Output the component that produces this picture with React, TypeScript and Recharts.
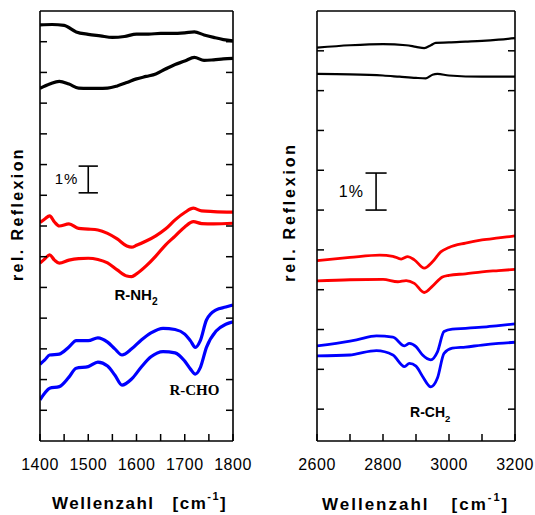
import React from 'react';
import { LineChart, Line, XAxis, YAxis, ReferenceLine, ReferenceDot } from 'recharts';

const SANS = 'Arial, "Liberation Sans", Helvetica, sans-serif';
const SERIF = '"Times New Roman", "Liberation Serif", serif';

// ---- left panel, 1400-1800 cm-1 (y in tick units)
const leftTicksX = [1400, 1450, 1500, 1550, 1600, 1650, 1700, 1750, 1800];
const leftTicksY = [1, 2, 3, 4, 5, 6, 7, 8, 9, 10, 11, 12, 13];

const refAWn = [1400, 1425, 1450, 1475, 1500, 1525, 1550, 1575, 1600, 1625, 1650, 1675, 1700, 1720, 1740, 1760, 1780, 1800];
const refA = [13.55, 13.56, 13.53, 13.32, 13.24, 13.19, 13.14, 13.17, 13.25, 13.25, 13.27, 13.27, 13.29, 13.32, 13.22, 13.14, 13.07, 13.03];

const refBWn = [1400, 1420, 1440, 1460, 1480, 1500, 1520, 1540, 1560, 1580, 1600, 1620, 1640, 1660, 1680, 1700, 1720, 1740, 1760, 1780, 1800];
const refB = [11.48, 11.62, 11.71, 11.62, 11.49, 11.48, 11.48, 11.49, 11.56, 11.67, 11.79, 11.87, 11.95, 12.11, 12.26, 12.37, 12.49, 12.39, 12.41, 12.44, 12.46];

const nh2Wn = [1400, 1410, 1420, 1430, 1440, 1460, 1480, 1500, 1520, 1540, 1560, 1580, 1590, 1600, 1620, 1640, 1660, 1680, 1700, 1718, 1735, 1760, 1800];
const nh2A = [7.11, 7.23, 7.33, 7.13, 7.0, 7.07, 6.92, 6.9, 6.87, 6.76, 6.58, 6.35, 6.31, 6.37, 6.51, 6.68, 6.9, 7.2, 7.44, 7.58, 7.49, 7.47, 7.45];
const nh2B = [5.79, 5.93, 6.06, 5.89, 5.79, 5.89, 5.94, 5.95, 5.91, 5.8, 5.57, 5.37, 5.35, 5.44, 5.7, 6.02, 6.38, 6.67, 6.97, 7.14, 7.08, 7.07, 7.09];

const choWn = [1400, 1410, 1420, 1440, 1460, 1475, 1500, 1520, 1540, 1555, 1570, 1590, 1610, 1630, 1655, 1680, 1700, 1712, 1722, 1732, 1745, 1765, 1785, 1800];
const choA = [2.5, 2.64, 2.8, 2.83, 3.06, 3.27, 3.27, 3.36, 3.22, 3.0, 2.8, 3.0, 3.29, 3.52, 3.67, 3.63, 3.48, 3.26, 3.05, 3.26, 3.94, 4.27, 4.36, 4.43];
const choB = [1.34, 1.56, 1.72, 1.77, 2.08, 2.37, 2.42, 2.57, 2.44, 2.15, 1.82, 2.02, 2.41, 2.74, 2.91, 2.87, 2.6, 2.34, 2.18, 2.38, 3.05, 3.58, 3.8, 3.88];

// ---- right panel, 2600-3200 cm-1
const rightTicksX = [2600, 2700, 2800, 2900, 3000, 3100, 3200];
const rightTicksY = [0.8, 1.8, 2.8, 3.8, 4.8, 5.8, 6.8, 7.8, 8.8, 9.8];

const rRefAWn = [2600, 2700, 2800, 2870, 2900, 2925, 2945, 2960, 3000, 3050, 3100, 3150, 3200];
const rRefA = [9.88, 9.94, 9.97, 9.94, 9.9, 9.87, 9.94, 10.0, 10.01, 10.03, 10.05, 10.08, 10.12];

const rRefBWn = [2600, 2700, 2800, 2850, 2900, 2930, 2950, 2965, 3000, 3100, 3200];
const rRefB = [9.22, 9.21, 9.18, 9.15, 9.12, 9.11, 9.2, 9.22, 9.18, 9.15, 9.15];

const rNh2AWn = [2600, 2700, 2790, 2830, 2855, 2875, 2895, 2925, 2950, 2975, 3000, 3050, 3100, 3150, 3200];
const rNh2A = [4.53, 4.61, 4.67, 4.64, 4.57, 4.63, 4.55, 4.34, 4.5, 4.75, 4.86, 4.97, 5.05, 5.1, 5.15];

const rNh2BWn = [2600, 2700, 2800, 2845, 2870, 2895, 2925, 2950, 2980, 3000, 3050, 3100, 3150, 3200];
const rNh2B = [4.02, 4.05, 4.06, 4.0, 4.03, 3.96, 3.73, 3.89, 4.12, 4.16, 4.2, 4.25, 4.28, 4.31];

const rChWn = [2600, 2700, 2720, 2780, 2830, 2865, 2880, 2900, 2920, 2945, 2965, 2985, 3010, 3050, 3100, 3150, 3200];
const rChA = [2.39, 2.51, 2.54, 2.64, 2.61, 2.39, 2.45, 2.37, 2.16, 2.04, 2.24, 2.75, 2.81, 2.83, 2.86, 2.9, 2.94];
const rChB = [2.14, 2.16, 2.19, 2.27, 2.16, 1.87, 1.95, 1.88, 1.62, 1.36, 1.58, 2.2, 2.33, 2.36, 2.41, 2.45, 2.48];

const zip = (wn: number[], r: number[]) => wn.map((x, i) => ({ x, r: r[i] }));

const frame = { stroke: '#000', strokeWidth: 1.6 };

const XTick = ({ x, y, payload, step, top }: any) => (
  <g>
    <line x1={x} x2={x} y1={y} y2={top ? y + 7 : y - 7} stroke="#000" strokeWidth={1.5} />
    {!top && payload.value % step === 0 && (
      <text x={x} y={y + 29} textAnchor="middle" fontSize={16} letterSpacing={0.5} fontFamily={SANS} fill="#000">
        {payload.value}
      </text>
    )}
  </g>
);

const YTick = ({ x, y, right }: any) => (
  <line x1={x} x2={right ? x - 7 : x + 7} y1={y} y2={y} stroke="#000" strokeWidth={1.5} />
);

const Tag = ({ viewBox, text, sub, size, serif }: any) => {
  const cx = viewBox.x + (viewBox.width || 0) / 2;
  const cy = viewBox.y + (viewBox.height || 0) / 2;
  return (
    <text x={cx} y={cy} textAnchor="middle" fontSize={size} fontWeight="bold" fontFamily={serif ? SERIF : SANS} fill="#000">
      {text}
      {sub && (
        <tspan fontSize={size * 0.68} dy={5}>
          {sub}
        </tspan>
      )}
    </text>
  );
};

const Plain = ({ viewBox, text, size }: any) => (
  <text x={viewBox.x + (viewBox.width || 0) / 2} y={viewBox.y + (viewBox.height || 0) / 2} textAnchor="middle" fontSize={size} fontFamily={SANS} letterSpacing={1} fill="#000">
    {text}
  </text>
);

function Panel({ left, width, margin, xDomain, xTicks, step, yDomain, yTicks, series, children }: any) {
  return (
    <div style={{ position: 'absolute', left, top: 0 }}>
      <LineChart width={width} height={515} margin={margin}>
        <XAxis type="number" dataKey="x" domain={xDomain} ticks={xTicks} interval={0} allowDataOverflow height={1}
          axisLine={frame} tickLine={false} tickSize={0} tickMargin={0} tick={<XTick step={step} />} />
        <XAxis xAxisId="top" orientation="top" type="number" domain={xDomain} ticks={xTicks} interval={0} allowDataOverflow height={1}
          axisLine={frame} tickLine={false} tickSize={0} tickMargin={0} tick={<XTick top />} />
        <YAxis type="number" domain={yDomain} ticks={yTicks} interval={0} allowDataOverflow width={1}
          axisLine={frame} tickLine={false} tickSize={0} tickMargin={0} tick={<YTick />} />
        <YAxis yAxisId="right" orientation="right" type="number" domain={yDomain} ticks={yTicks} interval={0} allowDataOverflow width={1}
          axisLine={frame} tickLine={false} tickSize={0} tickMargin={0} tick={<YTick right />} />
        {series.map((s: any, i: number) => (
          <Line key={i} data={s.data} dataKey="r" type="monotone" stroke={s.color} strokeWidth={s.w}
            dot={false} activeDot={false} isAnimationActive={false} />
        ))}
        {children}
      </LineChart>
    </div>
  );
}

const leftSeries = [
  { data: zip(refAWn, refA), color: '#000', w: 3.2 },
  { data: zip(refBWn, refB), color: '#000', w: 3.2 },
  { data: zip(nh2Wn, nh2A), color: '#ff0000', w: 3.2 },
  { data: zip(nh2Wn, nh2B), color: '#ff0000', w: 3.2 },
  { data: zip(choWn, choA), color: '#0000ff', w: 3.2 },
  { data: zip(choWn, choB), color: '#0000ff', w: 3.2 },
];

const rightSeries = [
  { data: zip(rRefAWn, rRefA), color: '#000', w: 2.2 },
  { data: zip(rRefBWn, rRefB), color: '#000', w: 2.2 },
  { data: zip(rNh2AWn, rNh2A), color: '#ff0000', w: 2.8 },
  { data: zip(rNh2BWn, rNh2B), color: '#ff0000', w: 2.8 },
  { data: zip(rChWn, rChA), color: '#0000ff', w: 2.8 },
  { data: zip(rChWn, rChB), color: '#0000ff', w: 2.8 },
];

const bar = { stroke: '#000', strokeWidth: 1.6 };

export default function App() {
  return (
    <div style={{ position: 'absolute', left: 0, top: 0, width: 535, height: 515, background: '#fff', overflow: 'hidden' }}>
      <Panel left={0} width={265} margin={{ top: 10, right: 31, bottom: 73, left: 39 }}
        xDomain={[1400, 1800]} xTicks={leftTicksX} step={100} yDomain={[0, 14]} yTicks={leftTicksY} series={leftSeries}>
        <ReferenceLine segment={[{ x: 1500, y: 8.95 }, { x: 1500, y: 8.08 }]} {...bar} />
        <ReferenceLine segment={[{ x: 1480, y: 8.95 }, { x: 1520, y: 8.95 }]} {...bar} />
        <ReferenceLine segment={[{ x: 1480, y: 8.08 }, { x: 1520, y: 8.08 }]} {...bar} />
        <ReferenceDot x={1455} y={8.36} r={0} fill="none" stroke="none" label={(p: any) => <Plain {...p} text="1%" size={15} />} />
        <ReferenceDot x={1599} y={4.59} r={0} fill="none" stroke="none" label={(p: any) => <Tag {...p} text="R-NH" sub="2" size={15} />} />
        <ReferenceDot x={1720} y={1.5} r={0} fill="none" stroke="none" label={(p: any) => <Tag {...p} text="R-CHO" size={15} serif />} />
      </Panel>
      <Panel left={270} width={265} margin={{ top: 10, right: 19, bottom: 73, left: 46 }}
        xDomain={[2600, 3200]} xTicks={rightTicksX} step={200} yDomain={[0, 10.8]} yTicks={rightTicksY} series={rightSeries}>
        <ReferenceLine segment={[{ x: 2779, y: 6.73 }, { x: 2779, y: 5.8 }]} {...bar} />
        <ReferenceLine segment={[{ x: 2747, y: 6.73 }, { x: 2811, y: 6.73 }]} {...bar} />
        <ReferenceLine segment={[{ x: 2747, y: 5.8 }, { x: 2811, y: 5.8 }]} {...bar} />
        <ReferenceDot x={2704} y={6.13} r={0} fill="none" stroke="none" label={(p: any) => <Plain {...p} text="1%" size={16} />} />
        <ReferenceDot x={2943} y={0.6} r={0} fill="none" stroke="none" label={(p: any) => <Tag {...p} text="R-CH" sub="2" size={14} />} />
      </Panel>
      <svg width={535} height={515} style={{ position: 'absolute', left: 0, top: 0, pointerEvents: 'none' }}>
        <g fontFamily={SANS} fontWeight="bold" fill="#000">
          <text transform="translate(23,214) rotate(-90)" textAnchor="middle" fontSize={16} letterSpacing={2.4}>rel. Reflexion</text>
          <text transform="translate(295,212) rotate(-90)" textAnchor="middle" fontSize={16} letterSpacing={2.8}>rel. Reflexion</text>
          <text x={52} y={509} fontSize={17} letterSpacing={1.5}>
            Wellenzahl<tspan dx={18}>[cm</tspan>
            <tspan fontSize={11} dy={-9}>-1</tspan>
            <tspan dy={9}>]</tspan>
          </text>
          <text x={322} y={510} fontSize={17} letterSpacing={2}>
            Wellenzahl<tspan dx={22}>[cm</tspan>
            <tspan fontSize={11} dy={-9}>-1</tspan>
            <tspan dy={9}>]</tspan>
          </text>
        </g>
      </svg>
    </div>
  );
}
